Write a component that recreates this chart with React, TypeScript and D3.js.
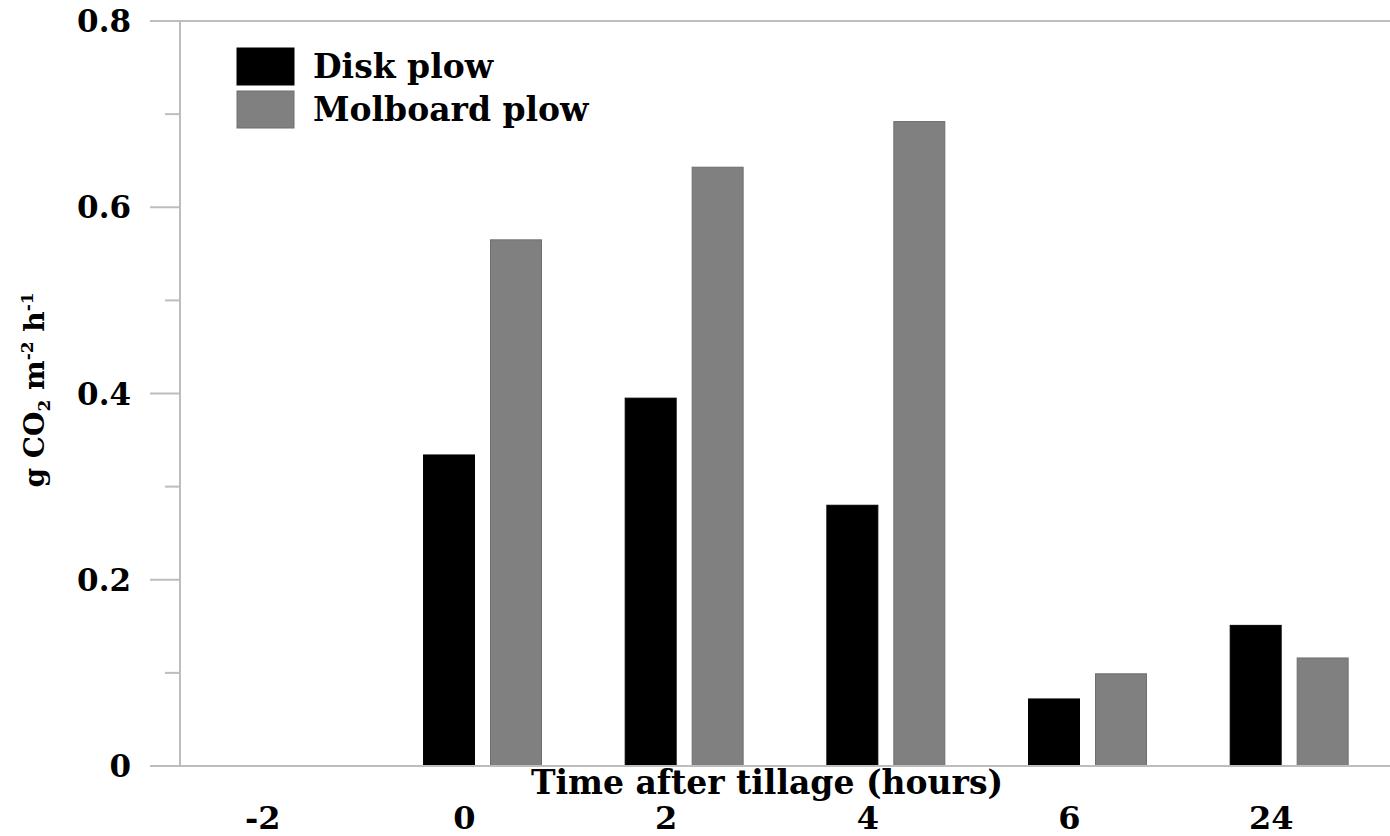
import React from 'react';
import * as d3 from 'd3';

// Chart data
const categories = ['-2', '0', '2', '4', '6', '24'];
const seriesNames = ['Disk plow', 'Molboard plow'];
const diskPlow = [null, 0.334, 0.395, 0.28, 0.072, 0.151];
const molboardPlow = [null, 0.565, 0.643, 0.692, 0.099, 0.116];
const majorTicks = [0, 0.2, 0.4, 0.6, 0.8];
const minorTicks = [0.1, 0.3, 0.5, 0.7];

const W = 1390;
const H = 836;
const FONT = '"DejaVu Serif", serif';
const colors = ['#000000', '#808080'];
const strokes = ['#000000', '#6e6e6e'];
const axisColor = '#bdbdbd';

const App = () => {
  const plotLeft = 180;
  const plotRight = 1390;
  const plotTop = 21;
  const plotBottom = 766;

  const y = d3.scaleLinear().domain([0, 0.8]).range([plotBottom, plotTop]);
  const x0 = d3.scaleBand<string>().domain(categories).range([plotLeft, plotRight]).padding(0);
  const x1 = d3
    .scaleBand<string>()
    .domain(seriesNames)
    .range([0, x0.bandwidth()])
    .paddingInner(0.239)
    .paddingOuter(0.625);

  const values = [diskPlow, molboardPlow];
  const fmt = (v: number) => (v === 0 ? '0' : d3.format('.1f')(v));

  return (
    <svg
      width={W}
      height={H}
      style={{ position: 'absolute', left: 0, top: 0, background: '#fff' }}
      fontFamily={FONT}
      fontWeight="bold"
    >
      {/* bars */}
      {categories.map((c, i) =>
        seriesNames.map((s, j) => {
          const v = values[j][i];
          if (v == null) return null;
          return (
            <rect
              key={c + s}
              x={(x0(c) ?? 0) + (x1(s) ?? 0)}
              y={y(v)}
              width={x1.bandwidth()}
              height={plotBottom - y(v)}
              fill={colors[j]}
              stroke={strokes[j]}
              strokeWidth={1}
            />
          );
        })
      )}

      {/* axes */}
      <line x1={150} x2={plotRight} y1={y(0.8)} y2={y(0.8)} stroke={axisColor} strokeWidth={2} />
      <line x1={150} x2={plotRight} y1={y(0)} y2={y(0)} stroke={axisColor} strokeWidth={2} />
      <line x1={plotLeft} x2={plotLeft} y1={plotTop} y2={plotBottom} stroke={axisColor} strokeWidth={2} />
      {majorTicks.map((t) => (
        <g key={'M' + t}>
          <line x1={150} x2={plotLeft} y1={y(t)} y2={y(t)} stroke={axisColor} strokeWidth={2} />
          <text x={131} y={y(t)} dy="0.36em" textAnchor="end" fontSize={31} fill="#000">
            {fmt(t)}
          </text>
        </g>
      ))}
      {minorTicks.map((t) => (
        <line key={'m' + t} x1={165} x2={plotLeft} y1={y(t)} y2={y(t)} stroke={axisColor} strokeWidth={2} />
      ))}

      {/* x tick labels */}
      {categories.map((c) => (
        <text
          key={'x' + c}
          x={(x0(c) ?? 0) + x0.bandwidth() / 2 - 18}
          y={829}
          textAnchor="middle"
          fontSize={32}
          fill="#000"
        >
          {c}
        </text>
      ))}

      {/* x axis title */}
      <text x={767} y={794} textAnchor="middle" fontSize={33} fill="#000">
        Time after tillage (hours)
      </text>

      {/* y axis title */}
      <text transform="translate(44,390) rotate(-90)" textAnchor="middle" fontSize={28} fill="#000">
        g CO
        <tspan fontSize={17} dy={6}>2</tspan>
        <tspan dy={-6}> m</tspan>
        <tspan fontSize={17} dy={-11}>-2</tspan>
        <tspan dy={11}> h</tspan>
        <tspan fontSize={17} dy={-11}>-1</tspan>
      </text>

      {/* legend */}
      {seriesNames.map((s, j) => (
        <g key={'leg' + s} transform={`translate(237,${48 + j * 43})`}>
          <rect width={57} height={37} fill={colors[j]} stroke={strokes[j]} strokeWidth={1} />
          <text x={76} y={30} fontSize={33} fill="#000">
            {s}
          </text>
        </g>
      ))}
    </svg>
  );
};

export default App;
